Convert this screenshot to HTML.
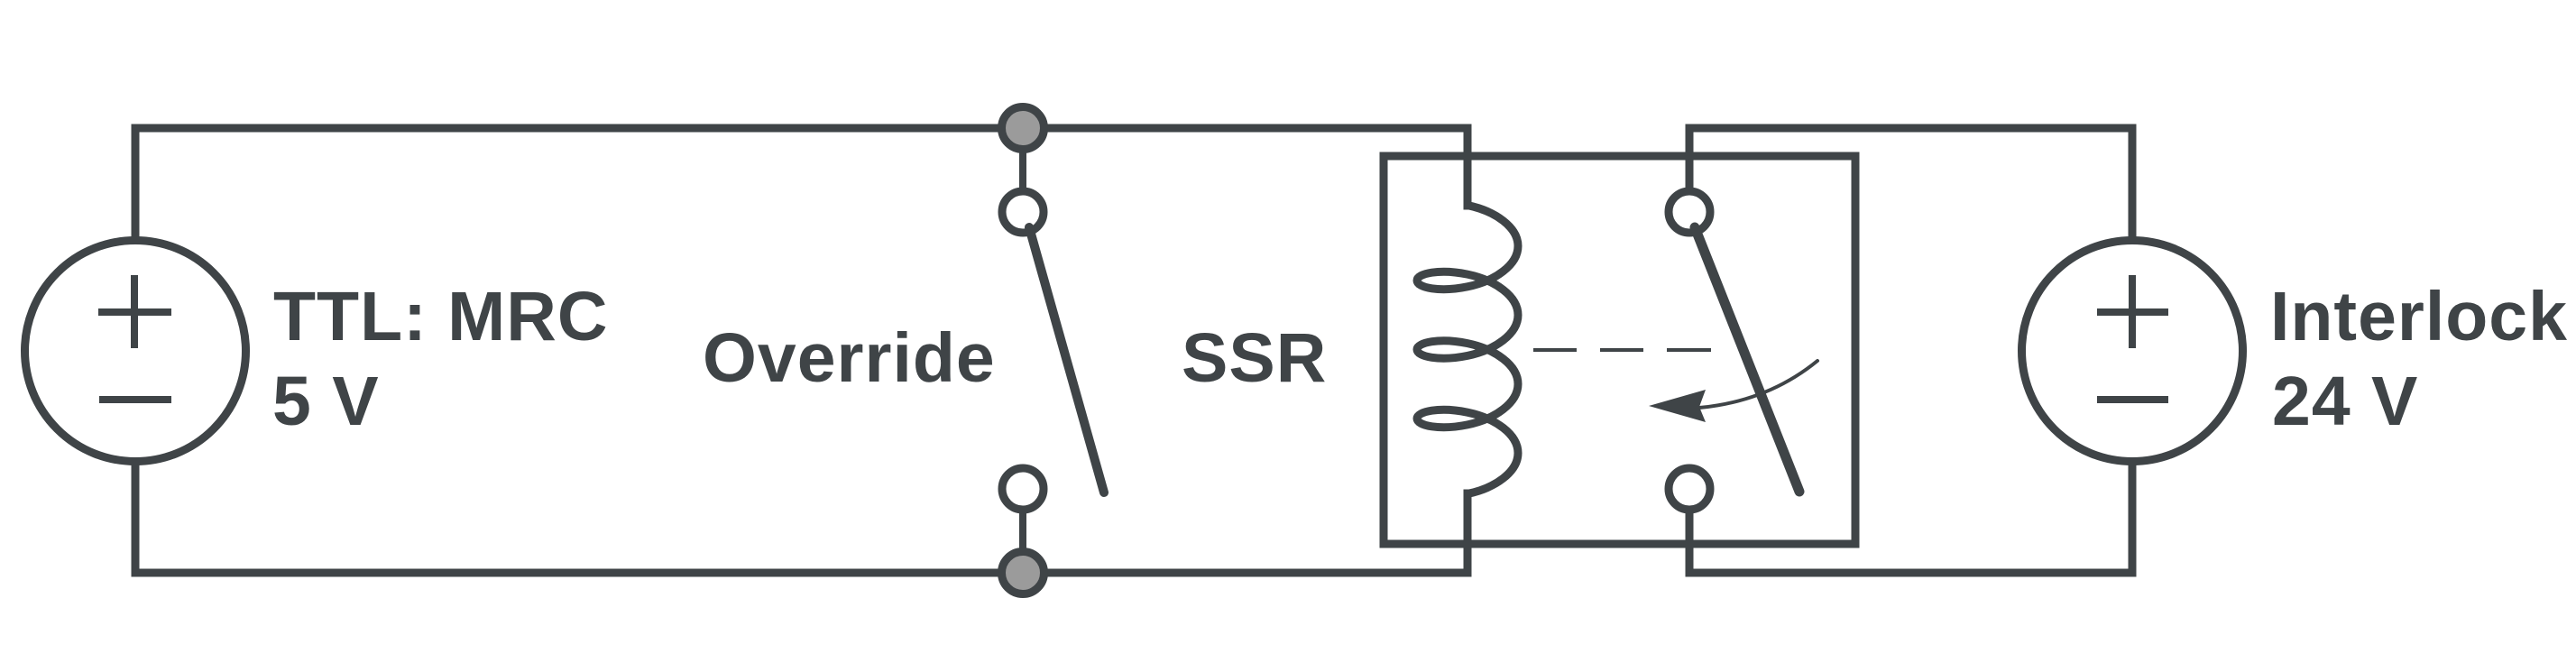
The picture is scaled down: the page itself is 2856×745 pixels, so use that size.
<!DOCTYPE html>
<html>
<head>
<meta charset="utf-8">
<style>
  html,body{margin:0;padding:0;background:#ffffff;}
  body{width:2856px;height:745px;overflow:hidden;}
  svg{display:block;}
  text{font-family:"Liberation Sans",Arial,sans-serif;font-weight:bold;font-size:77px;letter-spacing:1px;fill:#3f4447;}
</style>
</head>
<body>
<svg width="2856" height="745" viewBox="0 0 2856 745" xmlns="http://www.w3.org/2000/svg">
  <rect x="0" y="0" width="2856" height="745" fill="#ffffff"/>
  <g fill="none" stroke="#3f4447" stroke-width="9" stroke-linejoin="miter" stroke-linecap="square">
    <!-- left circuit wires -->
    <polyline points="150,266 150,142 1627,142 1627,228"/>
    <polyline points="150,512 150,635 1627,635 1627,547"/>
    <!-- right circuit wires -->
    <polyline points="1873,212 1873,142 2364,142 2364,266"/>
    <polyline points="1873,566 1873,635 2364,635 2364,512"/>
    <!-- SSR box -->
    <rect x="1534" y="173" width="523" height="430"/>
  </g>

  <!-- sources -->
  <g fill="none" stroke="#3f4447" stroke-width="9">
    <circle cx="150" cy="389" r="122.5"/>
    <circle cx="2364" cy="389" r="122.5"/>
  </g>
  <g stroke="#3f4447" stroke-width="8" fill="none">
    <line x1="109" y1="346" x2="190" y2="346"/>
    <line x1="149" y1="305" x2="149" y2="386"/>
    <line x1="110" y1="443" x2="190" y2="443"/>
    <line x1="2325" y1="346" x2="2404" y2="346"/>
    <line x1="2364" y1="305" x2="2364" y2="386"/>
    <line x1="2325" y1="443" x2="2404" y2="443"/>
  </g>

  <!-- coil -->
  <path fill="none" stroke="#3f4447" stroke-width="9" stroke-linejoin="round"
    d="M1627,226 L1627,227.57
       C1657.93,233.95 1683,251.96 1683,272.70
       C1683,293.44 1657.93,311.46 1627,317.84
       C1596.07,324.22 1571,318.95 1571,310.97
       C1571,302.99 1596.07,297.72 1627,304.10
       C1657.93,310.48 1683,328.49 1683,349.23
       C1683,369.97 1657.93,387.99 1627,394.37
       C1596.07,400.75 1571,395.48 1571,387.5
       C1571,379.52 1596.07,374.25 1627,380.63
       C1657.93,387.01 1683,405.03 1683,425.77
       C1683,446.51 1657.93,464.52 1627,470.90
       C1596.07,477.28 1571,472.01 1571,464.03
       C1571,456.05 1596.07,450.78 1627,457.16
       C1657.93,463.54 1683,481.56 1683,502.30
       C1683,523.04 1657.93,541.05 1627,547.43 L1627,549"/>

  <!-- dashed coupling -->
  <g stroke="#3f4447" stroke-width="4">
    <line x1="1700" y1="388" x2="1748" y2="388"/>
    <line x1="1774" y1="388" x2="1822" y2="388"/>
    <line x1="1848" y1="388" x2="1897" y2="388"/>
  </g>

  <!-- override switch -->
  <g stroke="#3f4447" stroke-width="8">
    <line x1="1134" y1="160" x2="1134" y2="215"/>
    <line x1="1134" y1="560" x2="1134" y2="615"/>
  </g>
  <g stroke="#3f4447" stroke-width="9">
    <circle cx="1134" cy="142" r="23.5" fill="#9b9b9b"/>
    <circle cx="1134" cy="635" r="23.5" fill="#9b9b9b"/>
    <circle cx="1134" cy="235" r="23" fill="#ffffff"/>
    <circle cx="1134" cy="542" r="23" fill="#ffffff"/>
  </g>
  <line x1="1141" y1="252" x2="1224" y2="546" stroke="#3f4447" stroke-width="10" stroke-linecap="round"/>

  <!-- SSR switch -->
  <g stroke="#3f4447" stroke-width="9" fill="#ffffff">
    <circle cx="1873" cy="235" r="23"/>
    <circle cx="1873" cy="542" r="23"/>
  </g>
  <line x1="1879" y1="252" x2="1995" y2="545" stroke="#3f4447" stroke-width="11" stroke-linecap="round"/>

  <!-- curved arrow -->
  <path d="M2015,400 Q1960,445 1884,452" fill="none" stroke="#3f4447" stroke-width="4" stroke-linecap="round"/>
  <polygon points="1828,450 1891,432 1884,451 1891,468" fill="#3f4447"/>

  <!-- labels -->
  <text x="303" y="377">TTL: MRC</text>
  <text x="302" y="471">5 V</text>
  <text x="779" y="423">Override</text>
  <text x="1310" y="423">SSR</text>
  <text x="2517" y="377">Interlock</text>
  <text x="2519" y="471">24 V</text>
</svg>
</body>
</html>
